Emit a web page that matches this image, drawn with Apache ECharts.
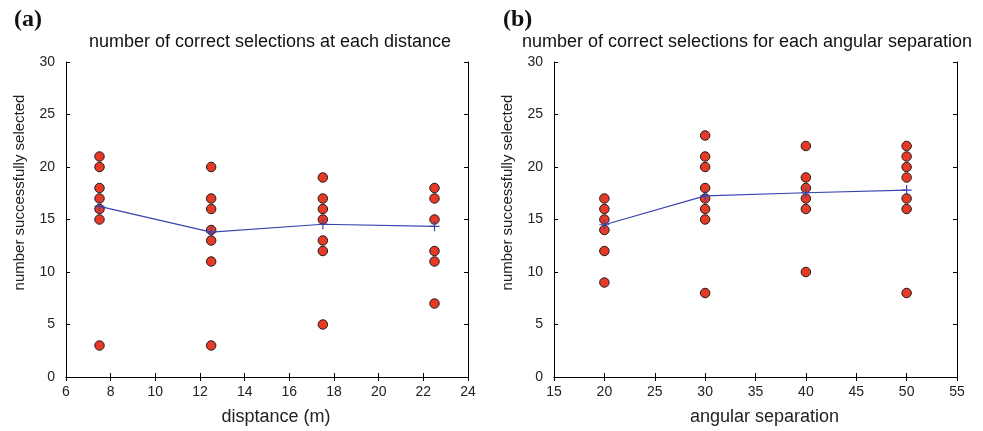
<!DOCTYPE html>
<html><head><meta charset="utf-8">
<script src="https://cdn.jsdelivr.net/npm/echarts@6/dist/echarts.min.js"></script>
<style>html,body{margin:0;padding:0;background:#fff}#c{width:983px;height:431px}</style>
</head><body><div id="c"></div>
<script>
// Panel (a): distance
const distX = [7.5, 12.5, 17.5, 22.5];
const distPoints = [
  [21, 20, 18, 17, 16, 15, 3],
  [20, 17, 16, 14, 13, 11, 3],
  [19, 17, 16, 15, 13, 12, 5],
  [18, 17, 15, 12, 11, 7]
];
const distMean = [16.25, 13.8, 14.55, 14.35];
// Panel (b): angular separation
const angX = [20, 30, 40, 50];
const angPoints = [
  [17, 16, 15, 14, 12, 9],
  [23, 21, 20, 18, 17, 16, 15, 8],
  [22, 19, 18, 17, 16, 10],
  [22, 21, 20, 19, 17, 16, 8]
];
const angMean = [14.5, 17.25, 17.55, 17.8];
const yTicks = [0, 5, 10, 15, 20, 25, 30];

const titles = ['number of correct selections at each distance', 'number of correct selections for each angular separation'];
const xNames = ['disptance (m)', 'angular separation'];
const yName = 'number successfully selected';

const chart = echarts.init(document.getElementById('c'));
const plus = 'path://M4.4,0H5.6V4.4H10V5.6H5.6V10H4.4V5.6H0V4.4H4.4Z';
const axisLine = {show: true, lineStyle: {color: '#000', width: 1}};
const FF = 'Liberation Sans, Helvetica, Arial, sans-serif';
const tickFont = {color: '#222', fontSize: 14, fontFamily: FF};

function pts(xs, groups) {
  const out = [];
  groups.forEach((g, i) => g.forEach(v => out.push([xs[i], v])));
  return out;
}

const grids = [
  {left: 66, right: 515, top: 62, bottom: 53},
  {left: 554, right: 26, top: 62, bottom: 53}
];
const xRanges = [{min: 6, max: 24, interval: 2}, {min: 15, max: 55, interval: 5}];

const xAxis = [], yAxis = [];
for (let i = 0; i < 2; i++) {
  xAxis.push({type: 'value', gridIndex: i, ...xRanges[i], position: 'bottom',
    axisLine, axisTick: {show: true, inside: true, length: 4, lineStyle: {color: '#000'}},
    axisLabel: {...tickFont, margin: 8}, splitLine: {show: false},
    name: xNames[i], nameLocation: 'middle', nameGap: 31,
    nameTextStyle: {color: '#222', fontSize: 18, fontFamily: FF, padding: [0, 0, 0, 18]}});
  xAxis.push({type: 'value', gridIndex: i, ...xRanges[i], position: 'top',
    axisLine, axisTick: {show: true, inside: true, length: 4, lineStyle: {color: '#000'}},
    axisLabel: {show: false}, splitLine: {show: false}});
  yAxis.push({type: 'value', gridIndex: i, min: 0, max: 30, interval: 5, position: 'left',
    axisLine, axisTick: {show: true, inside: true, length: 4, lineStyle: {color: '#000'}},
    axisLabel: {...tickFont, margin: 11}, splitLine: {show: false},
    name: yName, nameLocation: 'middle', nameGap: 39, nameRotate: 90,
    nameTextStyle: {color: '#222', fontSize: 15, fontFamily: FF, padding: [0, 0, 0, 54]}});
  yAxis.push({type: 'value', gridIndex: i, min: 0, max: 30, interval: 5, position: 'right',
    axisLine, axisTick: {show: true, inside: true, length: 4, lineStyle: {color: '#000'}},
    axisLabel: {show: false}, splitLine: {show: false}});
}

const scatterStyle = {color: '#e63a26', borderColor: '#1a1a1a', borderWidth: 1, opacity: 1};
const lineStyleMean = {color: '#3a44b0', width: 1.2};

chart.setOption({
  animation: false,
  textStyle: {fontFamily: FF},
  grid: grids,
  title: [
    {text: titles[0], left: 265, textAlign: 'center', top: 28, textStyle: {fontSize: 18, fontWeight: 'normal', color: '#111', fontFamily: FF}},
    {text: titles[1], left: 742, textAlign: 'center', top: 28, textStyle: {fontSize: 18, fontWeight: 'normal', color: '#111', fontFamily: FF}},
    {text: '(a)', left: 9, top: 3, textStyle: {fontSize: 24, fontWeight: 'bold', color: '#111', fontFamily: 'Liberation Serif, Times New Roman, serif'}},
    {text: '(b)', left: 498, top: 3, textStyle: {fontSize: 24, fontWeight: 'bold', color: '#111', fontFamily: 'Liberation Serif, Times New Roman, serif'}}
  ],
  xAxis, yAxis,
  series: [
    {type: 'line', xAxisIndex: 0, yAxisIndex: 0, data: distX.map((x, i) => [x, distMean[i]]),
      symbol: plus, symbolSize: 10, itemStyle: {color: '#3a44b0'}, lineStyle: lineStyleMean, z: 3},
    {type: 'scatter', xAxisIndex: 0, yAxisIndex: 0, data: pts(distX, distPoints),
      symbolSize: 9.5, itemStyle: scatterStyle, z: 2},
    {type: 'line', xAxisIndex: 2, yAxisIndex: 2, data: angX.map((x, i) => [x, angMean[i]]),
      symbol: plus, symbolSize: 10, itemStyle: {color: '#3a44b0'}, lineStyle: lineStyleMean, z: 3},
    {type: 'scatter', xAxisIndex: 2, yAxisIndex: 2, data: pts(angX, angPoints),
      symbolSize: 9.5, itemStyle: scatterStyle, z: 2}
  ]
});
</script></body></html>
